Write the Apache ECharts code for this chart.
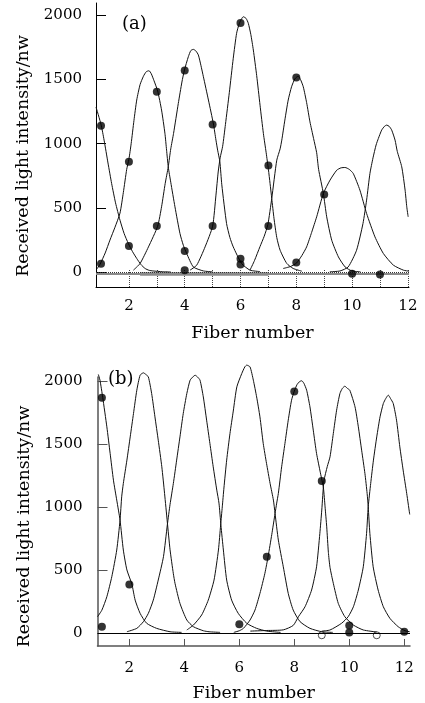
<!DOCTYPE html>
<html>
<head>
<meta charset="utf-8">
<script src="https://cdn.jsdelivr.net/npm/echarts@6/dist/echarts.min.js"></script>
<style>
html,body{margin:0;padding:0;background:#fff;}
#chart{width:425px;height:703px;}
</style>
</head>
<body>
<div id="chart"></div>
<script>
// ---------- panel (a) ----------
const xTicksA = [2,3,4,5,6,7,8,9,10,11,12];
const xLabelsA = [2,4,6,8,10,12];
const yTicks = [0,500,1000,1500,2000];

const curveA1 = [[0.82,1285],[1.0,1150],[1.11,1028],[1.25,850],[1.38,691],[1.52,540],[1.68,405],[1.83,300],[1.98,223],[2.13,160],[2.28,107],[2.43,60],[2.58,29],[2.72,15],[2.86,10],[3.2,4],[3.5,2]];
const curveA2 = [[0.85,25],[0.96,60],[1.15,150],[1.32,250],[1.5,350],[1.68,460],[1.8,620],[1.92,800],[2.0,880],[2.08,1000],[2.18,1180],[2.28,1340],[2.4,1460],[2.52,1525],[2.62,1560],[2.72,1568],[2.8,1545],[2.9,1490],[3.03,1410],[3.17,1262],[3.29,1082],[3.35,950],[3.41,820],[3.5,700],[3.65,509],[3.83,301],[3.95,210],[4.07,146],[4.31,41],[4.67,10],[5.0,3]];
const curveA3 = [[2.16,16],[2.4,68],[2.7,197],[3.03,358],[3.17,509],[3.3,690],[3.41,820],[3.5,960],[3.6,1080],[3.77,1313],[3.9,1480],[3.99,1573],[4.13,1677],[4.22,1725],[4.31,1734],[4.4,1722],[4.49,1690],[4.58,1610],[4.67,1521],[4.85,1340],[5.03,1153],[5.12,1028],[5.18,950],[5.26,860],[5.33,680],[5.5,379],[5.62,270],[5.74,197],[6.04,68],[6.34,16],[6.7,5]];
const curveA4 = [[4.19,16],[4.43,55],[4.73,197],[5.0,358],[5.12,600],[5.2,780],[5.27,890],[5.36,980],[5.46,1150],[5.6,1400],[5.74,1665],[5.86,1859],[5.96,1937],[6.1,1988],[6.2,1975],[6.28,1937],[6.37,1850],[6.46,1729],[6.58,1530],[6.7,1300],[6.82,1080],[6.92,930],[7.0,800],[7.06,690],[7.12,574],[7.2,420],[7.3,270],[7.42,171],[7.66,68],[7.89,29],[8.2,8]];
const curveA5 = [[6.34,16],[6.5,90],[6.7,200],[6.85,280],[6.98,370],[7.12,574],[7.3,872],[7.42,960],[7.48,1028],[7.59,1184],[7.71,1340],[7.83,1443],[7.95,1505],[8.07,1526],[8.15,1500],[8.25,1443],[8.37,1320],[8.49,1170],[8.62,1040],[8.73,930],[8.8,800],[8.97,613],[9.09,431],[9.27,249],[9.51,119],[9.75,41],[9.99,10],[10.3,3]];
const curveA6 = [[7.53,29],[7.8,45],[8.01,72],[8.2,130],[8.37,197],[8.55,310],[8.73,431],[8.97,613],[9.21,717],[9.45,794],[9.6,812],[9.75,815],[9.9,800],[10.04,769],[10.28,639],[10.52,457],[10.82,275],[11.12,146],[11.48,55],[11.84,16],[12.04,8]];
const curveA7 = [[9.2,3],[9.57,10],[9.86,41],[10.16,171],[10.39,379],[10.52,561],[10.64,769],[10.75,890],[10.86,990],[10.94,1040],[11.06,1106],[11.16,1135],[11.24,1145],[11.33,1135],[11.42,1106],[11.54,1028],[11.62,940],[11.78,820],[11.9,639],[11.96,509],[12.01,431]];
const dotsA = [[1,1140],[1,65],[2,860],[2,205],[3,1405],[3,360],[4,1570],[4,165],[4,15],[5,1150],[5,360],[6,1940],[6,105],[6,60],[7,830],[7,360],[8,1515],[8,75],[9,605],[10,-12],[11,-18]];
const baselineA = [[0.82,-14],[12.04,-14]];
const baselineThickA = [[2.4,-14],[7.0,-14]];

// ---------- panel (b) ----------
const xTicksB = [2,4,6,8,10,12];
const xLabelsB = [2,4,6,8,10,12];

const curveB1 = [[0.87,2050],[0.93,2005],[1.03,1868],[1.18,1635],[1.3,1424],[1.42,1212],[1.54,1054],[1.66,895],[1.78,658],[1.91,500],[2.09,388],[2.21,261],[2.39,156],[2.63,77],[2.99,37],[3.48,10],[3.9,5]];
const curveB2 = [[0.84,129],[1.0,182],[1.18,288],[1.36,446],[1.54,658],[1.66,895],[1.72,1080],[1.78,1186],[1.91,1371],[2.03,1555],[2.15,1741],[2.27,1925],[2.39,2044],[2.51,2063],[2.6,2050],[2.69,2031],[2.81,1899],[2.93,1714],[3.05,1529],[3.18,1318],[3.28,1107],[3.38,880],[3.48,660],[3.6,470],[3.66,394],[3.84,235],[4.09,103],[4.33,50],[4.69,18],[4.9,10],[5.3,5]];
const curveB3 = [[1.91,10],[2.27,37],[2.51,90],[2.69,156],[2.87,261],[3.05,420],[3.24,605],[3.38,856],[3.48,1020],[3.6,1186],[3.72,1371],[3.84,1555],[3.96,1741],[4.09,1899],[4.21,2005],[4.33,2035],[4.39,2044],[4.48,2030],[4.57,2005],[4.69,1872],[4.81,1688],[4.93,1503],[5.05,1318],[5.18,1133],[5.26,1030],[5.33,856],[5.42,658],[5.54,420],[5.72,261],[5.96,156],[6.27,77],[6.63,37],[7.0,15],[7.5,5]];
const curveB4 = [[4.09,24],[4.33,63],[4.63,143],[4.87,261],[5.08,420],[5.24,658],[5.32,856],[5.38,1000],[5.44,1150],[5.54,1371],[5.66,1582],[5.78,1760],[5.91,1952],[6.09,2058],[6.2,2110],[6.27,2124],[6.39,2110],[6.51,2005],[6.63,1872],[6.75,1714],[6.87,1503],[6.99,1345],[7.12,1186],[7.24,1054],[7.3,948],[7.42,737],[7.6,525],[7.78,314],[7.96,182],[8.21,90],[8.57,37],[9.0,10],[9.4,5]];
const curveB5 = [[5.8,5],[6.0,18],[6.15,37],[6.39,103],[6.57,182],[6.75,314],[6.93,473],[7.05,610],[7.18,780],[7.3,948],[7.36,1030],[7.42,1107],[7.54,1318],[7.66,1503],[7.78,1688],[7.9,1846],[8.0,1918],[8.1,1970],[8.2,1995],[8.27,2000],[8.35,1980],[8.45,1925],[8.57,1793],[8.69,1609],[8.81,1424],[8.95,1270],[9.06,1150],[9.12,1000],[9.18,842],[9.24,640],[9.3,520],[9.42,394],[9.6,235],[9.84,129],[10.15,63],[10.51,24],[11.0,8]];
const curveB6 = [[6.4,15],[7.0,20],[7.6,25],[7.96,60],[8.15,129],[8.39,208],[8.63,341],[8.81,525],[8.93,790],[9.0,975],[9.08,1207],[9.2,1320],[9.3,1397],[9.42,1582],[9.54,1767],[9.66,1899],[9.75,1940],[9.84,1957],[9.93,1940],[10.02,1925],[10.21,1793],[10.33,1635],[10.45,1450],[10.57,1265],[10.65,1107],[10.69,1001],[10.75,790],[10.87,525],[11.05,341],[11.24,208],[11.48,116],[11.78,50],[12.03,18],[12.2,10]];
const curveB7 = [[9.0,15],[9.3,24],[9.72,77],[9.96,129],[10.15,208],[10.33,341],[10.51,525],[10.63,790],[10.69,1001],[10.78,1186],[10.88,1371],[11.0,1555],[11.12,1714],[11.24,1820],[11.33,1860],[11.42,1886],[11.5,1860],[11.6,1820],[11.72,1688],[11.84,1476],[11.96,1292],[12.09,1107],[12.2,940]];
const dotsB = [[1,1865],[1,50],[2,385],[6,70],[7,605],[8,1915],[9,1205],[10,60],[10,5],[12,10]];
const hollowB = [[9,-18],[11,-18]];

const FONT = 'DejaVu Serif';
const chart = echarts.init(document.getElementById('chart'), null, {renderer:'canvas'});

function lineSeries(data, xi){
  return {type:'line', xAxisIndex:xi, yAxisIndex:xi, data:data, showSymbol:false, smooth:0.2,
    clip:false, lineStyle:{color:'#111', width:1}, silent:true, z:3};
}
function dotSeries(data, xi){
  return {type:'scatter', xAxisIndex:xi, yAxisIndex:xi, data:data, symbol:'circle', symbolSize:8,
    itemStyle:{color:'#000'}, clip:false, silent:true, z:5};
}

const series = [
  {type:'line', xAxisIndex:0, yAxisIndex:0, data:baselineA, showSymbol:false, lineStyle:{color:'#8a8a8a', width:2}, silent:true, z:1,
    markLine:{symbol:'none', silent:true, label:{show:false}, lineStyle:{color:'#333', type:'dotted', width:1}, data:[{yAxis:0}]}},
  {type:'line', xAxisIndex:0, yAxisIndex:0, data:baselineThickA, showSymbol:false, lineStyle:{color:'#8a8a8a', width:3.5}, silent:true, z:1},
  lineSeries(curveA1,0), lineSeries(curveA2,0), lineSeries(curveA3,0), lineSeries(curveA4,0),
  lineSeries(curveA5,0), lineSeries(curveA6,0), lineSeries(curveA7,0),
  dotSeries(dotsA,0),
  Object.assign(lineSeries(curveB1,1), {markLine:{symbol:'none', silent:true, label:{show:false}, lineStyle:{color:'#000', type:'solid', width:1}, data:[{yAxis:0}]}}),
  lineSeries(curveB2,1), lineSeries(curveB3,1), lineSeries(curveB4,1),
  lineSeries(curveB5,1), lineSeries(curveB6,1), lineSeries(curveB7,1),
  dotSeries(dotsB,1),
  {type:'scatter', xAxisIndex:1, yAxisIndex:1, data:hollowB, symbol:'circle', symbolSize:7,
    itemStyle:{color:'#fff', borderColor:'#222', borderWidth:1}, silent:true, z:2}
];

const plain = v => String(v);
const labelStyle = {color:'#000', fontFamily:FONT, fontSize:15, formatter:plain};
const nameStyle = {color:'#000', fontFamily:FONT, fontSize:17.5};

chart.setOption({
  animation:false,
  backgroundColor:'#fff',
  grid:[
    {left:96, top:3, width:313, height:284},
    {left:97.5, top:377, width:312.5, height:269}
  ],
  xAxis:[
    {type:'value', gridIndex:0, min:0.82, max:12.04,
      name:'Fiber number', nameLocation:'middle', nameGap:37, nameTextStyle:nameStyle,
      axisLine:{show:true, onZero:false, lineStyle:{color:'#000', width:1}},
      axisTick:{show:true, inside:true, length:17, customValues:xTicksA, lineStyle:{color:'#444', type:'dotted', width:1}},
      axisLabel:{show:true, customValues:xLabelsA, margin:12, ...labelStyle},
      splitLine:{show:false}},
    {type:'value', gridIndex:1, min:0.84, max:12.21,
      name:'Fiber number', nameLocation:'middle', nameGap:38, nameTextStyle:nameStyle,
      axisLine:{show:true, onZero:false, lineStyle:{color:'#555', width:1.5}},
      axisTick:{show:true, inside:true, length:7, customValues:xTicksB, lineStyle:{color:'#555', width:1}},
      axisLabel:{show:true, customValues:xLabelsB, margin:15, ...labelStyle},
      splitLine:{show:false}}
  ],
  yAxis:[
    {type:'value', gridIndex:0, min:-115, max:2095,
      name:'Received light intensity/nw', nameLocation:'middle', nameGap:59,
      nameTextStyle:Object.assign({}, nameStyle, {padding:[0,22,0,0]}),
      axisLine:{show:true, onZero:false, lineStyle:{color:'#000', width:1}},
      axisTick:{show:true, inside:true, length:10, customValues:yTicks, lineStyle:{color:'#000'}},
      axisLabel:{show:true, customValues:yTicks, margin:14, ...labelStyle},
      splitLine:{show:false}},
    {type:'value', gridIndex:1, min:-103, max:2030,
      name:'Received light intensity/nw', nameLocation:'middle', nameGap:64,
      nameTextStyle:Object.assign({}, nameStyle, {padding:[0,30,0,0]}),
      axisLine:{show:true, onZero:false, lineStyle:{color:'#555', width:1.5}},
      axisTick:{show:true, inside:true, length:10, customValues:yTicks, lineStyle:{color:'#555'}},
      axisLabel:{show:true, customValues:yTicks, margin:15, ...labelStyle},
      splitLine:{show:false}}
  ],
  graphic:[
    {type:'text', left:122, top:15, style:{text:'(a)', font:'18px "DejaVu Serif"', fill:'#000'}},
    {type:'text', left:108, top:370, style:{text:'(b)', font:'18px "DejaVu Serif"', fill:'#000'}}
  ],
  series:series
});
</script>
</body>
</html>
